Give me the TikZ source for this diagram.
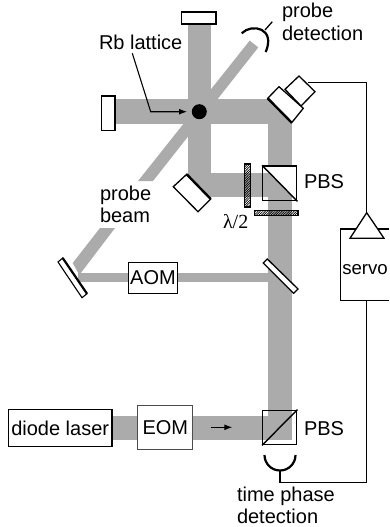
\documentclass[tikz,border=0pt]{standalone}
\usepackage{fontspec}
\setmainfont{Liberation Sans}
\newfontfamily\serifgreek{Liberation Serif}
\usetikzlibrary{arrows.meta,patterns.meta}
\definecolor{beamgray}{HTML}{ABABAB}
\tikzset{
  beam/.style={fill=beamgray,draw=none},
  optic/.style={draw=black,line width=1.3pt,fill=white},
  thick edge/.style={draw=black,line width=2.4pt},
  wire/.style={draw=black,line width=1.3pt},
  plate/.style={draw=black,line width=1.4pt,pattern={Lines[angle=45,distance=1.7pt,line width=.7pt]}},
  label/.style={inner sep=0pt,outer sep=0pt,anchor=base west,font=\fontsize{20}{22}\selectfont},
  box/.style={draw=black,fill=white,line width=1pt,inner sep=0pt,font=\fontsize{20}{22}\selectfont},
  pointer/.style={draw=black,line width=1.1pt,-{Latex[length=8pt,width=6pt]}},
}
\begin{document}
\begin{tikzpicture}[x=1pt,y=-1pt]
\useasboundingbox (0,0) rectangle (389,527);
% beams
\fill[beam] (187.5,24) rectangle (210.7,197);
\fill[beam] (115,99) rectangle (292,124);
\fill[beam] (187.5,173) rectangle (280,197);
\fill[beam] (268,99) rectangle (292,440);
\fill[beam] (112,416) rectangle (292,440);
\fill[beam] (78,273) rectangle (268,282);
\fill[beam] (249.7,40.6) -- (258.3,47.4) -- (153,181) -- (138,181) -- cycle;
\fill[beam] (100,228) -- (115,228) -- (79.3,275) -- (72.7,263) -- cycle;
% top-right PBS white triangle and square
\fill[white] (262.7,166) -- (296.7,166) -- (296.7,200.7) -- cycle;
\fill[white] (292,197) rectangle (296.7,200.7);
\node[draw=black,line width=1.4pt,minimum width=34pt,minimum height=34.7pt,inner sep=0pt] (pbsA) at (279.7,183.3) {};
\draw[line width=1.4pt] (pbsA.north west) -- (pbsA.south east);
\node[draw=black,line width=1.4pt,minimum width=34pt,minimum height=34.4pt,inner sep=0pt] (pbsB) at (279.7,427.5) {};
\draw[line width=1.4pt] (pbsB.south west) -- (pbsB.north east);
% lattice
\fill[black] (199.3,111.7) circle (7.5);
\coordinate (rb) at (187,111.7);
% end mirrors
\draw[optic,line width=1.5pt] (181.5,12) rectangle (216,24);
\draw[optic,line width=1.5pt] (101.7,96) rectangle (115,130.7);
% mirror with camera
\draw[optic] (285,89.3) -- (299,76) -- (315,91.7) -- (301,106) -- cycle;
\draw[optic] (267.7,98.3) -- (279,86.7) -- (303.3,108.3) -- (291.7,122.7) -- cycle;
\draw[thick edge] (267.7,98.3) -- (291.7,122.7);
% lower-left mirror
\draw[optic] (173.3,186.7) -- (186.7,174.3) -- (210.7,199) -- (198,211.7) -- cycle;
\draw[thick edge] (186.7,174.3) -- (210.7,199);
% beam splitter plate
\draw[optic] (263.3,263) -- (267.3,259) -- (298,289) -- (293.6,293.3) -- cycle;
% left mirror
\draw[optic,line width=1.1pt] (58,262) -- (62.7,258) -- (87,293.7) -- (82,297.7) -- cycle;
\draw[thick edge,line width=2.2pt] (62.7,258) -- (87,293.7);
% wave plates
\draw[plate] (244.3,164) rectangle (250.5,207);
\draw[plate] (254.5,210.3) rectangle (298,215.5);
% boxes
\node[box,minimum width=49.4pt,minimum height=31pt] (aom) at (153,277.8) {AOM};
\node[box,draw=black!70,minimum width=54.7pt,minimum height=44.3pt] (eom) at (165.3,427.8) {EOM};
\node[box,line width=1.4pt,minimum width=103.7pt,minimum height=37pt] (laser) at (60.2,428.2) {diode laser};
% servo
\draw[line width=1.3pt,fill=white] (389,229) -- (340.7,229) -- (340.7,300.7) -- (389,300.7);
\node[label,font=\fontsize{18.6}{22}\selectfont] (servo) at (342.3,274) {servo};
\draw[line width=1.3pt,fill=white] (366.7,212.7) -- (384,238.3) -- (350,238.3) -- cycle;
\coordinate (tri) at (366.7,212.7);
\coordinate (srvb) at (366.7,300.7);
% time-phase detector
\draw[line width=2.2pt] (264.5,455) arc[start angle=180,end angle=0,radius=15.5];
\coordinate (tdet) at (280,470.5);
\coordinate (cam) at (308.3,82.3);
\draw[wire] (cam) -- (366.7,82.3) -- (tri);
\draw[wire] (tdet) -- (280,482.7) -- (366.7,482.7) -- (srvb);
% probe detector
\draw[line width=2.2pt] (241.7,33.3) .. controls (252,23) and (276,28) .. (265.7,52);
\coordinate (pd) at (265,30);
\coordinate (pdt) at (272.3,21.7);
\draw[wire] (pd) -- (pdt);
% arrows
\coordinate (eoma) at (210.7,427.3);
\coordinate (eomb) at (232.3,427.3);
\draw[pointer] (eoma) -- (eomb);
\coordinate (rbl) at (132.3,53.3);
\draw[pointer] (rbl) -- (150.7,111.7) -- (rb);
% labels
\node[label] (t1) at (282,18) {probe};
\node[label] (t2) at (282,41) {detection};
\node[label] (t3) at (99,50) {Rb lattice};
\node[label] (t4) at (100,200) {probe};
\node[label] (t5) at (100,222.7) {beam};
\node[label] (t6) at (304,188) {PBS};
\node[label] (t7) at (304,435) {PBS};
\node[label] (t8) at (237,501.7) {time phase};
\node[label] (t9) at (237,523) {detection};
\node[label,font=\serifgreek\fontsize{20}{22}\selectfont] (t10) at (223,228) {λ/2};
\end{tikzpicture}
\end{document}
